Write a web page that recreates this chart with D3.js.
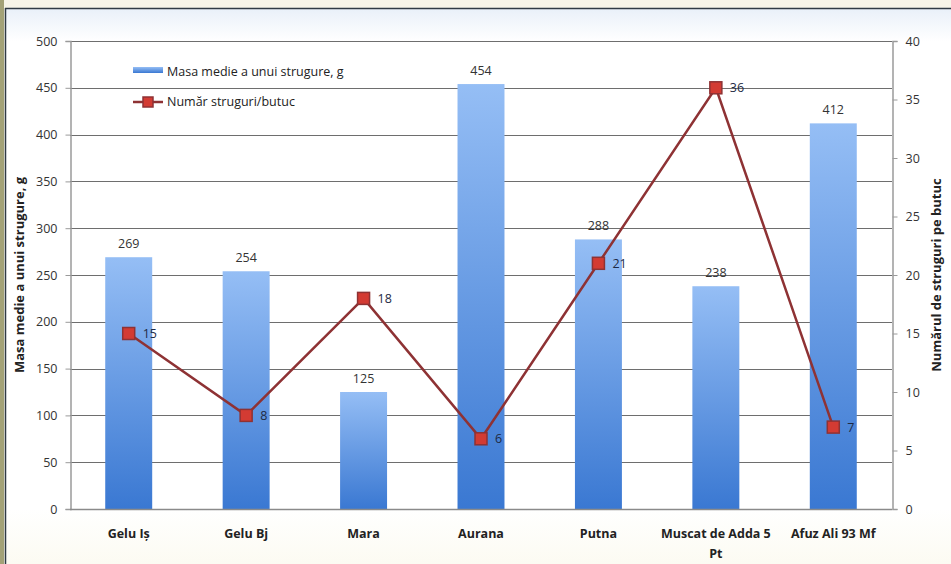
<!DOCTYPE html>
<html>
<head>
<meta charset="utf-8">
<script src="https://cdn.jsdelivr.net/npm/d3@7"></script>
<style>
  html, body { margin: 0; padding: 0; background: #f6f4e8; }
  svg { display: block; }
  text { font-family: "Liberation Sans Narrow", "Open Sans", "Liberation Sans", Arial, sans-serif; }
</style>
</head>
<body>
<svg id="chart" width="951" height="564"></svg>
<script>
// Soiuri (categorii)
const categories = ["Gelu Iș", "Gelu Bj", "Mara", "Aurana", "Putna", "Muscat de Adda 5 Pt", "Afuz Ali 93 Mf"];
// Masa medie a unui strugure, g
const masaMedie = [269, 254, 125, 454, 288, 238, 412];
// Număr struguri/butuc
const numarStruguri = [15, 8, 18, 6, 21, 36, 7];
const leftTicks = [0, 50, 100, 150, 200, 250, 300, 350, 400, 450, 500];
const rightTicks = [0, 5, 10, 15, 20, 25, 30, 35, 40];
const seriesNames = ["Masa medie a unui strugure, g", "Număr struguri/butuc"];

const svg = d3.select("#chart");
const W = 951, H = 564;

// frame / background
const defs = svg.append("defs");
const bg = defs.append("linearGradient").attr("id", "bgGrad").attr("x1", 0).attr("x2", 0).attr("y1", 0).attr("y2", 1);
bg.append("stop").attr("offset", "0%").attr("stop-color", "#e9f0f9");
bg.append("stop").attr("offset", "6%").attr("stop-color", "#ffffff");
bg.append("stop").attr("offset", "90%").attr("stop-color", "#ffffff");
bg.append("stop").attr("offset", "100%").attr("stop-color", "#fcfbf2");

svg.append("rect").attr("x", 0).attr("y", 0).attr("width", W).attr("height", H).attr("fill", "#f6f4e8");
svg.append("rect").attr("x", 0).attr("y", 0).attr("width", 4).attr("height", H).attr("fill", "#a3a277");
svg.append("rect").attr("x", 5).attr("y", 8).attr("width", W - 5).attr("height", H - 8).attr("fill", "url(#bgGrad)");
svg.append("line").attr("x1", 5).attr("x2", W).attr("y1", 8.5).attr("y2", 8.5).attr("stroke", "#2f3a44").attr("stroke-width", 1.5);
svg.append("line").attr("x1", 5.5).attr("x2", 5.5).attr("y1", 8).attr("y2", H).attr("stroke", "#2f3a44").attr("stroke-width", 1.5);

const plot = { left: 70, right: 892, top: 41, bottom: 509 };

const x = d3.scaleBand().domain(categories).range([plot.left, plot.right]).paddingInner(0.6).paddingOuter(0.3);
const yL = d3.scaleLinear().domain([0, 500]).range([plot.bottom, plot.top]);
const yR = d3.scaleLinear().domain([0, 40]).range([plot.bottom, plot.top]);
const xc = d => x(d) + x.bandwidth() / 2;

// bar gradient
const barGrad = defs.append("linearGradient").attr("id", "barGrad").attr("x1", 0).attr("x2", 0).attr("y1", 0).attr("y2", 1);
barGrad.append("stop").attr("offset", "0%").attr("stop-color", "#95bef5");
barGrad.append("stop").attr("offset", "100%").attr("stop-color", "#3a78d2");

// gridlines
svg.append("g").selectAll("line").data(leftTicks.filter(t => t > 0)).join("line")
  .attr("x1", plot.left).attr("x2", plot.right)
  .attr("y1", d => Math.round(yL(d)) + 0.5).attr("y2", d => Math.round(yL(d)) + 0.5)
  .attr("stroke", "#6e6e6e").attr("stroke-width", 1);

// left axis
const axL = svg.append("g").attr("transform", `translate(${plot.left + 0.5},0)`)
  .call(d3.axisLeft(yL).tickValues(leftTicks).tickSize(5).tickPadding(8));
axL.select(".domain").attr("stroke", "#9a9a9a").attr("stroke-width", 1.5);
axL.selectAll(".tick line").attr("stroke", "#9a9a9a");
axL.selectAll(".tick text").attr("font-size", 12.5).attr("fill", "#333");

// right axis
const axR = svg.append("g").attr("transform", `translate(${plot.right + 0.5},0)`)
  .call(d3.axisRight(yR).tickValues(rightTicks).tickSize(5).tickPadding(8));
axR.select(".domain").attr("stroke", "#9a9a9a").attr("stroke-width", 1.5);
axR.selectAll(".tick line").attr("stroke", "#9a9a9a");
axR.selectAll(".tick text").attr("font-size", 12.5).attr("fill", "#333");

// bars
svg.append("g").selectAll("rect").data(categories).join("rect")
  .attr("x", d => x(d)).attr("width", x.bandwidth())
  .attr("y", (d, i) => yL(masaMedie[i]))
  .attr("height", (d, i) => plot.bottom - yL(masaMedie[i]))
  .attr("fill", "url(#barGrad)");

// x baseline
svg.append("line").attr("x1", plot.left).attr("x2", plot.right)
  .attr("y1", plot.bottom + 0.5).attr("y2", plot.bottom + 0.5)
  .attr("stroke", "#8a8a8a").attr("stroke-width", 1.5);

// bar value labels
svg.append("g").selectAll("text").data(categories).join("text")
  .attr("x", d => xc(d)).attr("y", (d, i) => yL(masaMedie[i]) - 9)
  .attr("text-anchor", "middle").attr("font-size", 12.5).attr("fill", "#333")
  .text((d, i) => masaMedie[i]);

// category labels
const catG = svg.append("g");
categories.forEach(c => {
  const lines = c === "Muscat de Adda 5 Pt" ? ["Muscat de Adda 5", "Pt"] : [c];
  lines.forEach((ln, j) => {
    catG.append("text").attr("x", xc(c)).attr("y", 538 + j * 20)
      .attr("text-anchor", "middle").attr("font-size", 12.5).attr("font-weight", "bold").attr("fill", "#222")
      .text(ln);
  });
});

// line series
const line = d3.line().x((d, i) => xc(categories[i])).y(d => yR(d));
svg.append("path").datum(numarStruguri).attr("d", line)
  .attr("fill", "none").attr("stroke", "#8e3234").attr("stroke-width", 2.5);

const mk = 12;
svg.append("g").selectAll("rect").data(numarStruguri).join("rect")
  .attr("x", (d, i) => xc(categories[i]) - mk / 2).attr("y", d => yR(d) - mk / 2)
  .attr("width", mk).attr("height", mk)
  .attr("fill", "#d33b33").attr("stroke", "#8e3234").attr("stroke-width", 1.5);

svg.append("g").selectAll("text").data(numarStruguri).join("text")
  .attr("x", (d, i) => xc(categories[i]) + 14).attr("y", d => yR(d) + 4.5)
  .attr("font-size", 12.5).attr("fill", "#1e2a44")
  .text(d => d);

// legend
const lg = svg.append("g");
lg.append("rect").attr("x", 133).attr("y", 67).attr("width", 30).attr("height", 6).attr("fill", "url(#barGrad)");
lg.append("text").attr("x", 167).attr("y", 76).attr("font-size", 12.5).attr("fill", "#222").text(seriesNames[0]);
lg.append("line").attr("x1", 133).attr("x2", 163).attr("y1", 102).attr("y2", 102).attr("stroke", "#8e3234").attr("stroke-width", 2.5);
lg.append("rect").attr("x", 143).attr("y", 97).attr("width", 10).attr("height", 10)
  .attr("fill", "#d33b33").attr("stroke", "#8e3234").attr("stroke-width", 1.5);
lg.append("text").attr("x", 167).attr("y", 106).attr("font-size", 12.5).attr("fill", "#222").text(seriesNames[1]);

// axis titles
svg.append("text").attr("transform", `translate(24,${(plot.top + plot.bottom) / 2}) rotate(-90)`)
  .attr("text-anchor", "middle").attr("font-size", 13).attr("font-weight", "bold").attr("fill", "#222")
  .text("Masa medie a unui strugure, g");
svg.append("text").attr("transform", `translate(941,${(plot.top + plot.bottom) / 2}) rotate(-90)`)
  .attr("text-anchor", "middle").attr("font-size", 13).attr("font-weight", "bold").attr("fill", "#222")
  .text("Numărul de struguri pe butuc");
</script>
</body>
</html>
